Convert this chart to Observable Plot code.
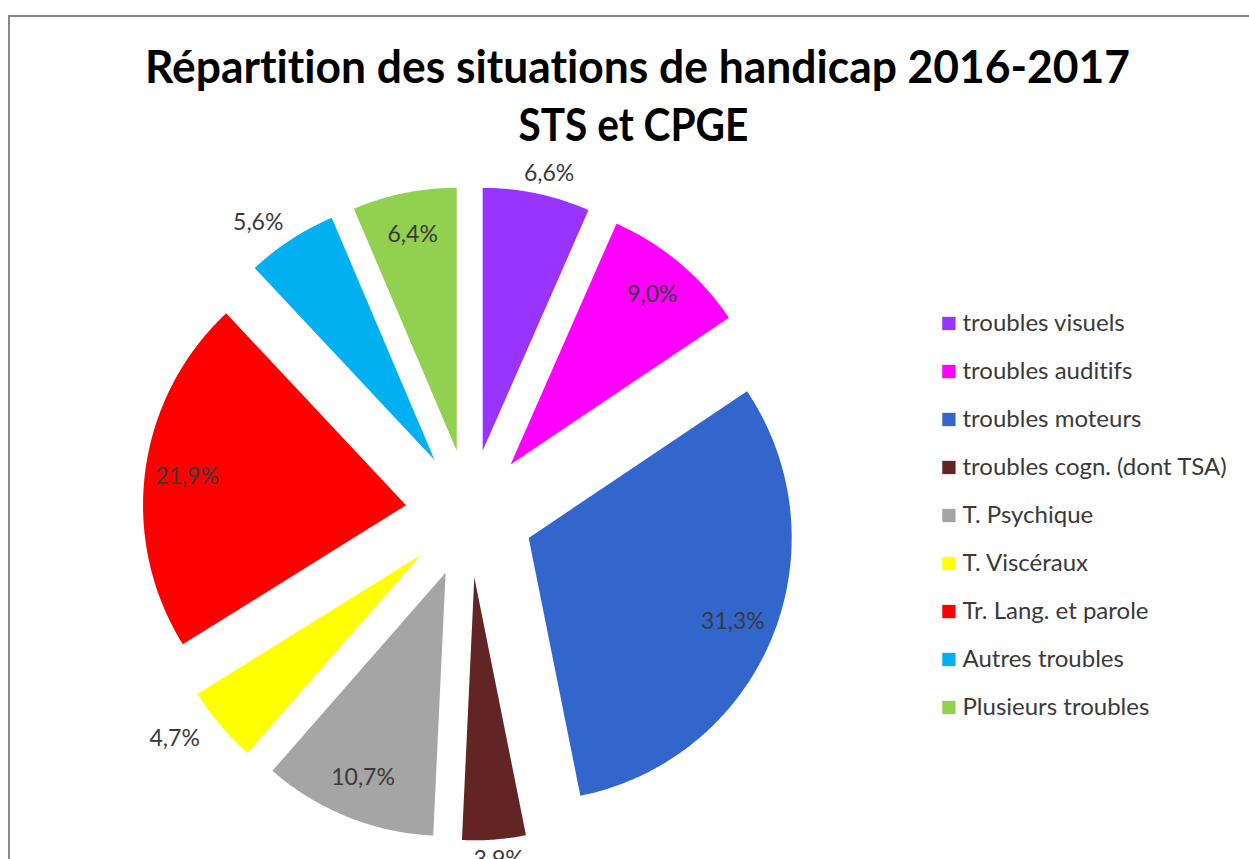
<!DOCTYPE html>
<html>
<head>
<meta charset="utf-8">
<script src="https://cdn.jsdelivr.net/npm/d3@7"></script>
<script src="https://cdn.jsdelivr.net/npm/@observablehq/plot@0.6"></script>
<style>
  html, body { margin: 0; padding: 0; background: #fff; overflow: hidden; }
  #wrap { position: relative; width: 1249px; height: 859px; overflow: hidden; background: #fff; }
  #frame { position: absolute; left: 8px; top: 15px; width: 1400px; height: 1000px; border: 2px solid #898989; box-sizing: border-box; }
  #pie, #legend { position: absolute; }
  #pie { left: 0; top: 0; }
  #legend { left: 935px; top: 297px; }
  svg text { font-variant-ligatures: none; font-feature-settings: "liga" 0, "clig" 0; }
  .title { position: absolute; font-family: Lato, "Open Sans", sans-serif; font-weight: 700; font-size: 45px; line-height: 45px; white-space: nowrap; color: #000;
           font-variant-ligatures: none; font-feature-settings: "liga" 0, "clig" 0, "dlig" 0; }
</style>
</head>
<body>
<div id="wrap">
  <div id="frame"></div>
  <div id="pie"></div>
  <div id="legend"></div>
  <div class="title" id="t1">Répartition des situations de handicap 2016-2017</div>
  <div class="title" id="t2">STS et CPGE</div>
</div>
<script>
// ---- data ----
const categories = [
  "troubles visuels",
  "troubles auditifs",
  "troubles moteurs",
  "troubles cogn. (dont TSA)",
  "T. Psychique",
  "T. Viscéraux",
  "Tr. Lang. et parole",
  "Autres troubles",
  "Plusieurs troubles"
];
const values = [6.6, 9.0, 31.3, 3.9, 10.7, 4.7, 21.9, 5.6, 6.4];
const colors = ["#9933FF", "#FF00FF", "#3366CC", "#632523", "#A5A5A5", "#FFFF00", "#FF0000", "#00B0F0", "#92D050"];
const outsideLabels = ["troubles visuels", "troubles cogn. (dont TSA)", "T. Viscéraux", "Autres troubles"];

// ---- layout parameters ----
const W = 1249, H = 859;
const R = 263;               // pie radius in px
const CX = 469, CY = 513;    // pie centre in px
const explode = 64 / R;      // explosion offset, in radius units
const insideK = 0.84;
const outGap = 16 / R, outHW = 44 / R, outHH = 4 / R;
const FONT = "Lato, 'Open Sans', sans-serif";

const total = d3.sum(values);
let cum = 0;
const slices = categories.map((c, i) => {
  const a0 = cum / total * 2 * Math.PI;
  cum += values[i];
  const a1 = cum / total * 2 * Math.PI;
  return {cat: c, value: values[i], a0, a1, mid: (a0 + a1) / 2};
});

// polygon points (unit-radius coordinates, y up, angle clockwise from 12 o'clock)
const pts = [];
for (const s of slices) {
  const ox = explode * Math.sin(s.mid), oy = explode * Math.cos(s.mid);
  pts.push({cat: s.cat, x: ox, y: oy});
  const n = Math.max(2, Math.ceil((s.a1 - s.a0) / (Math.PI / 360)));
  for (let k = 0; k <= n; k++) {
    const a = s.a0 + (s.a1 - s.a0) * k / n;
    pts.push({cat: s.cat, x: ox + Math.sin(a), y: oy + Math.cos(a)});
  }
  pts.push({cat: s.cat, x: ox, y: oy});
}

const labels = slices.map(s => {
  const dx = Math.sin(s.mid), dy = Math.cos(s.mid);
  const ox = explode * dx, oy = explode * dy;
  let x, y;
  if (outsideLabels.includes(s.cat)) {
    x = ox + dx * (1 + outGap) + dx * outHW;
    y = oy + dy * (1 + outGap) + dy * outHH;
  } else {
    x = ox + dx * insideK;
    y = oy + dy * insideK;
  }
  return {cat: s.cat, x, y, text: s.value.toFixed(1).replace(".", ",") + "%"};
});

const colorScale = {domain: categories, range: colors};

const pie = Plot.plot({
  width: W, height: H,
  margin: 0,
  x: {domain: [-CX / R, (W - CX) / R], axis: null},
  y: {domain: [-(H - CY) / R, CY / R], axis: null},
  color: colorScale,
  style: {background: "transparent", overflow: "visible"},
  marks: [
    Plot.line(pts, {x: "x", y: "y", z: "cat", fill: "cat", stroke: "none", curve: "linear"}),
    Plot.text(labels, {x: "x", y: "y", text: "text", fill: "#3a3a3a", fontSize: 23, fontFamily: FONT})
  ]
});
document.getElementById("pie").appendChild(pie);

const legend = Plot.plot({
  width: 314, height: 435,
  margin: 0,
  x: {axis: null},
  y: {type: "point", domain: categories, range: [0, 435], padding: 0.5, axis: null},
  color: colorScale,
  style: {background: "transparent", overflow: "visible"},
  marks: [
    Plot.dot(categories, {y: d => d, fill: d => d, symbol: "square", r: 7.5, stroke: "none", frameAnchor: "left", dx: 13.4}),
    Plot.text(categories, {y: d => d, text: d => d, frameAnchor: "left", textAnchor: "start", dx: 27, fill: "#3a3a3a", fontSize: 24, fontFamily: FONT})
  ]
});
document.getElementById("legend").appendChild(legend);

// title placement: baseline targets and widths
function placeTitle(id, centerX, baseline, targetWidth) {
  const el = document.getElementById(id);
  const w = el.getBoundingClientRect().width;
  const sx = targetWidth / w;
  el.style.left = (centerX - w / 2) + "px";
  el.style.top = (baseline - 0.887 * 45) + "px";
  el.style.transformOrigin = "50% 50%";
  el.style.transform = `scaleX(${sx})`;
}
placeTitle("t1", 638, 83.5, 985);
placeTitle("t2", 633, 141.7, 230);
</script>
</body>
</html>
